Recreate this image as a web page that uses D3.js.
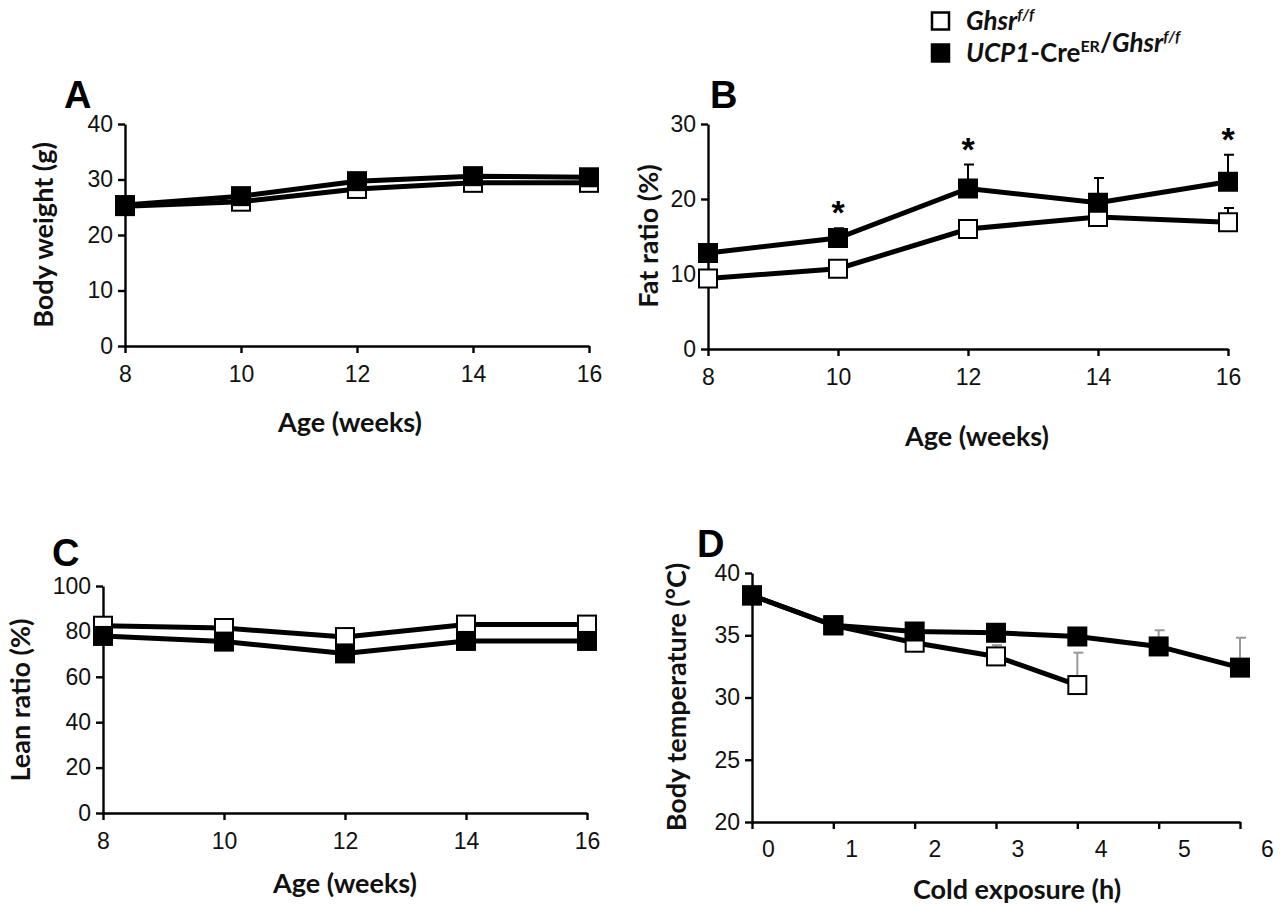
<!DOCTYPE html>
<html>
<head>
<meta charset="utf-8">
<script src="https://cdn.jsdelivr.net/npm/d3@7"></script>
<style>
  body { margin: 0; background: #fff; }
  svg { display: block; font-family: Lato, "Open Sans", sans-serif; }
  .tick text { font-size: 23px; fill: #111; }
  .axis path, .axis line { stroke: #000; stroke-width: 2.4px; }
  .title { font-size: 27px; font-weight: bold; fill: #111; }
  .letter { font-family: "Liberation Sans", Arial, sans-serif; font-size: 38px; font-weight: bold; }
</style>
</head>
<body>
<svg width="1287" height="907"></svg>
<script>
// ---- data ----
var ages = [8, 10, 12, 14, 16];
var ageTicks = [8, 10, 12, 14, 16];

var bwCtrl = [25.2, 26.0, 28.3, 29.4, 29.4];
var bwKO   = [25.4, 27.0, 29.7, 30.6, 30.4];

var fatCtrl    = [9.4, 10.7, 16.0, 17.6, 16.9];
var fatKO      = [12.8, 14.8, 21.4, 19.5, 22.3];
var fatCtrlErr = [0.5, 0.6, 0.8, 0.6, 1.9];
var fatKOErr   = [0.8, 1.3, 3.2, 3.3, 3.6];
var fatStars   = [10, 12, 16];

var leanCtrl = [82.5, 81.5, 77.5, 83.0, 83.0];
var leanKO   = [78.0, 75.5, 70.3, 75.8, 75.8];

var hours      = [0, 1, 2, 3, 4, 5, 6];
var tempCtrl   = [38.2, 35.8, 34.4, 33.3, 31.0];
var tempKO     = [38.2, 35.8, 35.3, 35.2, 34.9, 34.1, 32.4];
var tempCtrlErr = [0.3, 0.3, 0.3, 0.9, 2.6];
var tempKOErr   = [0.3, 0.3, 0.3, 0.3, 0.3, 1.3, 2.4];

var svg = d3.select("svg");

function panel(cfg) {
  var g = svg.append("g");
  var x = cfg.x, y = cfg.y;

  // axes
  g.append("g").attr("class", "axis")
      .attr("transform", "translate(0," + y.range()[0] + ")")
      .call(d3.axisBottom(x).tickValues(cfg.xTicks).tickSize(7).tickSizeOuter(0)
        .tickFormat(cfg.xLabels ? "" : d3.format("d")).tickPadding(13));
  if (cfg.xLabels) {
    // labels drawn on their own, offset from the ticks
    g.append("g").attr("class", "axis")
        .attr("transform", "translate(0," + y.range()[0] + ")")
        .call(d3.axisBottom(cfg.xLabels).tickValues(cfg.xTicks).tickSize(0).tickPadding(19).tickFormat(d3.format("d")))
        .call(function(s) { s.select(".domain").remove(); });
  }
  g.append("g").attr("class", "axis")
      .attr("transform", "translate(" + x.range()[0] + ",0)")
      .call(d3.axisLeft(y).tickValues(cfg.yTicks).tickSize(7).tickSizeOuter(0).tickPadding(5));

  g.append("text").attr("class", "title")
      .attr("transform", "translate(" + cfg.yTitle[0] + "," + cfg.yTitle[1] + ") rotate(-90)")
      .attr("text-anchor", "middle").text(cfg.yLabel);
  g.append("text").attr("class", "title")
      .attr("x", cfg.xTitle[0]).attr("y", cfg.xTitle[1])
      .attr("text-anchor", "middle").text(cfg.xLabel);
  g.append("text").attr("class", "letter")
      .attr("x", cfg.letterPos[0]).attr("y", cfg.letterPos[1])
      .text(cfg.letter);

  // series: control (open) first, knockout (filled) on top
  cfg.series.forEach(function(s) {
    var pts = s.values.map(function(v, i) { return { x: cfg.xs[i], v: v, e: s.err ? s.err[i] : 0 }; });

    g.append("path")
        .datum(pts)
        .attr("fill", "none")
        .attr("stroke", "#000")
        .attr("stroke-width", 5)
        .attr("d", d3.line().x(function(d) { return x(d.x); }).y(function(d) { return y(d.v); }));

    if (s.err) {
      var eb = g.selectAll(null).data(pts).enter().append("g")
          .attr("stroke", cfg.errColor).attr("stroke-width", 2);
      eb.append("line")
          .attr("x1", function(d) { return x(d.x); }).attr("x2", function(d) { return x(d.x); })
          .attr("y1", function(d) { return y(d.v); }).attr("y2", function(d) { return y(d.v + d.e); });
      eb.append("line")
          .attr("x1", function(d) { return x(d.x) - 4; }).attr("x2", function(d) { return x(d.x) + 6; })
          .attr("y1", function(d) { return y(d.v + d.e); }).attr("y2", function(d) { return y(d.v + d.e); });
    }

    g.selectAll(null).data(pts).enter().append("rect")
        .attr("x", function(d) { return x(d.x) - 9; })
        .attr("y", function(d) { return y(d.v) - 9; })
        .attr("width", 18).attr("height", 18)
        .attr("fill", s.filled ? "#000" : "#fff")
        .attr("stroke", "#000").attr("stroke-width", 2);
  });

  if (cfg.stars) {
    var ko = cfg.series[1];
    g.selectAll(null).data(cfg.stars).enter().append("text")
        .attr("x", function(a) { return x(a); })
        .attr("y", function(a) { var i = cfg.xs.indexOf(a); return y(ko.values[i] + ko.err[i]) - 4; })
        .attr("text-anchor", "middle")
        .attr("font-size", 34).attr("font-weight", "bold")
        .attr("font-family", "'Liberation Sans', Arial, sans-serif")
        .text("*");
  }
}

// A: body weight
panel({
  x: d3.scaleLinear().domain([8, 16]).range([125, 589]),
  y: d3.scaleLinear().domain([0, 40]).range([346, 124]),
  xs: ages, xTicks: ageTicks, yTicks: [0, 10, 20, 30, 40],
  yLabel: "Body weight (g)", xLabel: "Age (weeks)",
  yTitle: [53, 235], xTitle: [350, 432],
  letter: "A", letterPos: [64, 108],
  errColor: "#000",
  series: [{ values: bwCtrl, filled: false }, { values: bwKO, filled: true }]
});

// B: fat ratio
panel({
  x: d3.scaleLinear().domain([8, 16]).range([708, 1228]),
  y: d3.scaleLinear().domain([0, 30]).range([349, 124]),
  xs: ages, xTicks: ageTicks, yTicks: [0, 10, 20, 30],
  yLabel: "Fat ratio (%)", xLabel: "Age (weeks)",
  yTitle: [658, 236], xTitle: [977, 446],
  letter: "B", letterPos: [710, 108],
  errColor: "#000",
  stars: fatStars,
  series: [{ values: fatCtrl, err: fatCtrlErr, filled: false }, { values: fatKO, err: fatKOErr, filled: true }]
});

// C: lean ratio
panel({
  x: d3.scaleLinear().domain([8, 16]).range([103, 587]),
  y: d3.scaleLinear().domain([0, 100]).range([813, 586]),
  xs: ages, xTicks: ageTicks, yTicks: [0, 20, 40, 60, 80, 100],
  yLabel: "Lean ratio (%)", xLabel: "Age (weeks)",
  yTitle: [30, 700], xTitle: [345, 893],
  letter: "C", letterPos: [52, 566],
  errColor: "#000",
  series: [{ values: leanCtrl, filled: false }, { values: leanKO, filled: true }]
});

// D: body temperature during cold exposure
panel({
  x: d3.scaleLinear().domain([0, 6]).range([752, 1240]),
  xLabels: d3.scaleLinear().domain([0, 6]).range([768, 1267]),
  y: d3.scaleLinear().domain([20, 40]).range([822, 573]),
  xs: hours, xTicks: hours, yTicks: [20, 25, 30, 35, 40],
  yLabel: "Body temperature (°C)", xLabel: "Cold exposure (h)",
  yTitle: [686, 697], xTitle: [1017, 899],
  letter: "D", letterPos: [697, 557],
  errColor: "#999",
  series: [{ values: tempCtrl, err: tempCtrlErr, filled: false }, { values: tempKO, err: tempKOErr, filled: true }]
});

// legend
var legend = svg.append("g").attr("font-size", 26).attr("font-weight", "bold").attr("fill", "#111");
var legendItems = [
  { filled: false, parts: [["Ghsr", "italic", 0], ["f/f", "italic", 1]] },
  { filled: true, parts: [["UCP1", "italic", 0], ["-Cre", "normal", 0], ["ER", "normal", 1], ["/", "normal", 0], ["Ghsr", "italic", 0], ["f/f", "italic", 1]] }
];
legendItems.forEach(function(it, i) {
  var yy = 21 + i * 32;
  legend.append("rect").attr("x", 932).attr("y", yy - 8.5).attr("width", 17).attr("height", 17)
      .attr("fill", it.filled ? "#000" : "#fff").attr("stroke", "#000").attr("stroke-width", 2.5);
  var t = legend.append("text").attr("x", 966).attr("y", yy + 9);
  it.parts.forEach(function(p) {
    t.append("tspan").attr("font-style", p[1])
        .attr("font-size", p[2] ? 16 : 26)
        .attr("dy", p[2] ? -10 : 0)
        .text(p[0]);
    if (p[2]) t.append("tspan").attr("dy", 10).text("");
  });
});
</script>
</body>
</html>
